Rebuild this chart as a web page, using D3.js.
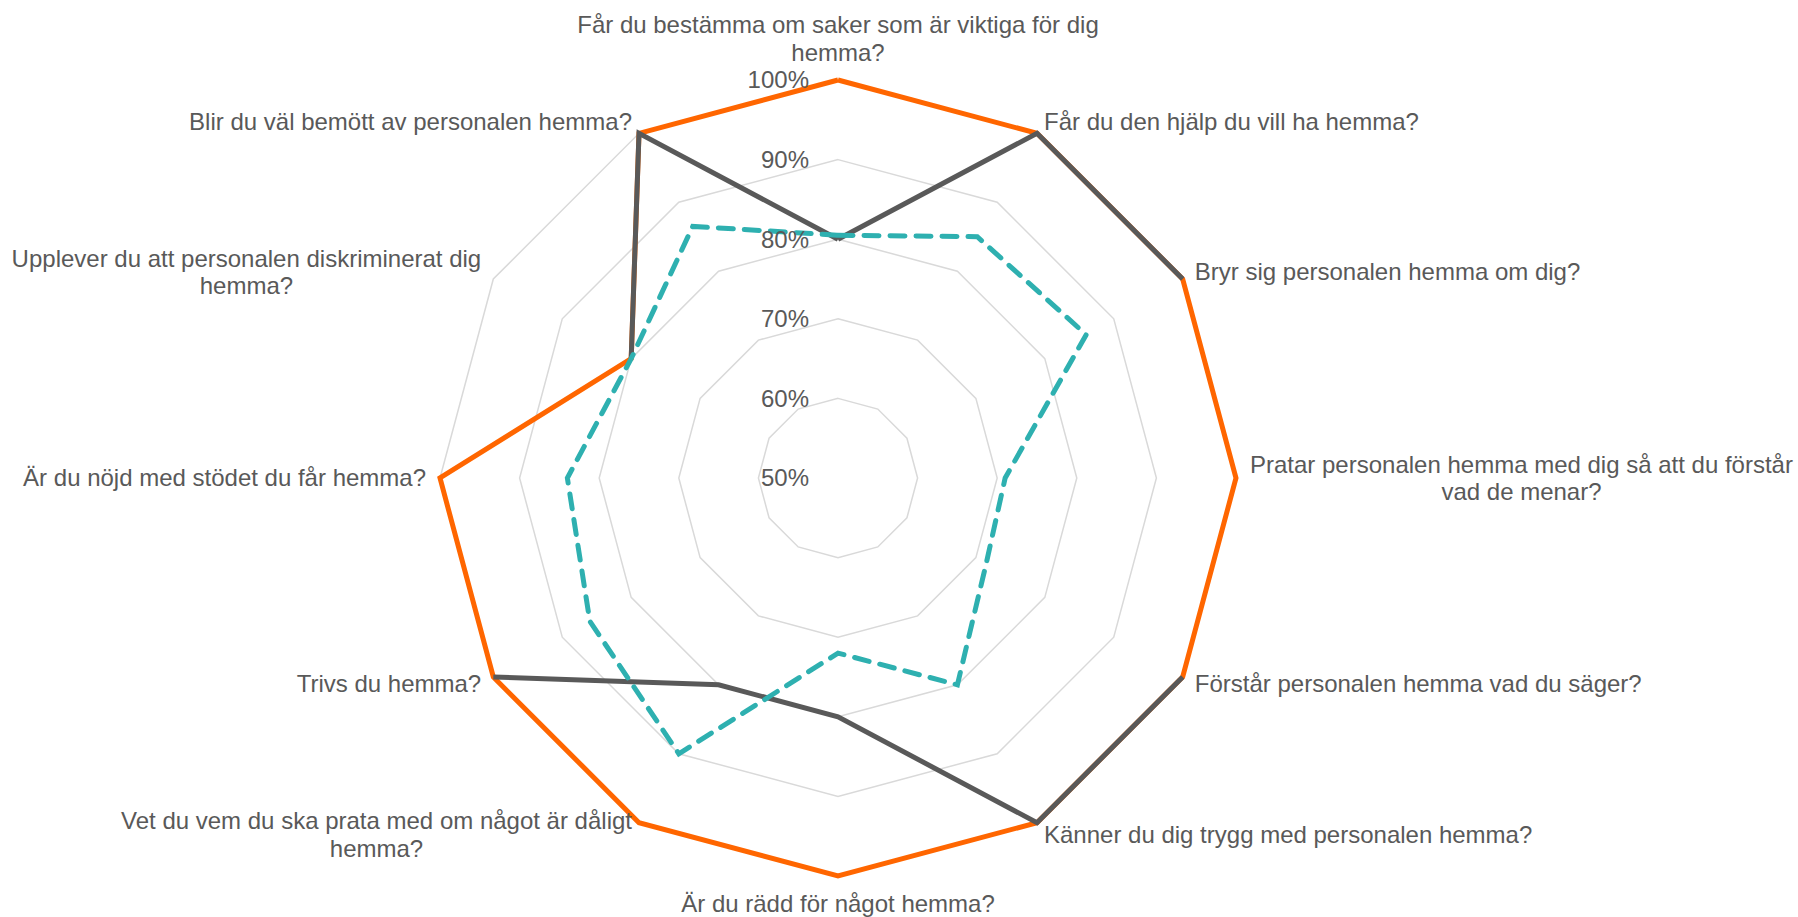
<!DOCTYPE html>
<html>
<head>
<meta charset="utf-8">
<script src="https://cdn.jsdelivr.net/npm/d3@7"></script>
<style>
  html, body { margin: 0; padding: 0; background: #fff; }
  svg { display: block; }
</style>
</head>
<body>
<svg id="chart"></svg>
<script>
// Category labels (line breaks as in the original chart)
const categories = [
  "Får du bestämma om saker som är viktiga för dig\nhemma?",
  "Får du den hjälp du vill ha hemma?",
  "Bryr sig personalen hemma om dig?",
  "Pratar personalen hemma med dig så att du förstår\nvad de menar?",
  "Förstår personalen hemma vad du säger?",
  "Känner du dig trygg med personalen hemma?",
  "Är du rädd för något hemma?",
  "Vet du vem du ska prata med om något är dåligt\nhemma?",
  "Trivs du hemma?",
  "Är du nöjd med stödet du får hemma?",
  "Upplever du att personalen diskriminerat dig\nhemma?",
  "Blir du väl bemött av personalen hemma?"
];

// Series values (share of positive answers), null = no value
const orangeValues = [1.00, 1.00, 1.00, 1.00, 1.00, 1.00, 1.00, 1.00, 1.00, 1.00, 0.80, 1.00];
const grayValues   = [0.80, 1.00, 1.00, null, 1.00, 1.00, 0.80, 0.80, 1.00, null, 0.80, 1.00];
const tealValues   = [0.805, 0.85, 0.86, 0.71, 0.715, 0.80, 0.72, 0.90, 0.86, 0.84, 0.80, 0.865];

// Radial axis ticks
const ticks = [0.5, 0.6, 0.7, 0.8, 0.9, 1.0];

const width = 1798;
const height = 917;
const cx = 838;
const cy = 478;
const outerRadius = 398;
const textColor = '#595959';
const fontFamily = '"Liberation Sans", Arial, sans-serif';

const svg = d3.select('#chart')
  .attr('width', width)
  .attr('height', height)
  .attr('viewBox', `0 0 ${width} ${height}`);

svg.append('rect').attr('width', width).attr('height', height).attr('fill', '#fff');

const g = svg.append('g').attr('transform', `translate(${cx}, ${cy})`);

const rScale = d3.scaleLinear().domain([0.5, 1.0]).range([0, outerRadius]);
const aScale = d3.scaleLinear().domain([0, categories.length]).range([0, 2 * Math.PI]);

// Grid rings (no spokes in the original)
const ringLine = d3.lineRadial()
  .angle((d, i) => aScale(i))
  .radius(d => rScale(d))
  .curve(d3.curveLinearClosed);

ticks.filter(t => t > 0.5).forEach(t => {
  g.append('path')
    .datum(categories.map(() => t))
    .attr('d', ringLine)
    .attr('fill', 'none')
    .attr('stroke', '#d9d9d9')
    .attr('stroke-width', 1.5);
});

// Series lines, closed by repeating the first point
const seriesLine = d3.lineRadial()
  .defined(d => d.v != null)
  .angle(d => aScale(d.i))
  .radius(d => rScale(d.v));

const closed = values => values.map((v, i) => ({ v, i })).concat([{ v: values[0], i: values.length }]);

g.append('path')
  .datum(closed(orangeValues))
  .attr('d', seriesLine)
  .attr('fill', 'none')
  .attr('stroke', '#ff6600')
  .attr('stroke-width', 5);

g.append('path')
  .datum(closed(grayValues))
  .attr('d', seriesLine)
  .attr('fill', 'none')
  .attr('stroke', '#595959')
  .attr('stroke-width', 5);

g.append('path')
  .datum(closed(tealValues))
  .attr('d', seriesLine)
  .attr('fill', 'none')
  .attr('stroke', '#2eb0b0')
  .attr('stroke-width', 5)
  .attr('stroke-linecap', 'round')
  .attr('stroke-dasharray', '15,11');

// Tick labels along the top axis
const fmt = d3.format('.0%');
ticks.forEach(t => {
  g.append('text')
    .attr('x', -29)
    .attr('y', -rScale(t))
    .attr('dy', '0.35em')
    .attr('text-anchor', 'end')
    .attr('font-family', fontFamily)
    .attr('font-size', '24px')
    .attr('fill', textColor)
    .text(fmt(t));
});

// Category labels
const pad = 14;
const lineHeight = 27.5;
categories.forEach((label, i) => {
  const a = aScale(i);
  const s = Math.sin(a);
  const c = Math.cos(a);
  const ax = (outerRadius + pad) * s;
  const ay = -(outerRadius + pad) * c;
  const lines = label.split('\n');

  const txt = g.append('text')
    .attr('font-family', fontFamily)
    .attr('font-size', '24px')
    .attr('fill', textColor)
    .attr('text-anchor', 'middle');

  const spans = lines.map(l => txt.append('tspan').text(l));
  const w = d3.max(spans, sp => sp.node().getComputedTextLength());
  const h = lines.length * lineHeight;

  let bx = ax;
  if (s > 0.1) bx = ax + w / 2;
  else if (s < -0.1) bx = ax - w / 2;
  let by = ay;
  if (Math.abs(s) < 0.1) by = ay - c * h / 2;

  spans.forEach((sp, k) => {
    sp.attr('x', bx)
      .attr('y', by - h / 2 + lineHeight * (k + 0.5))
      .attr('dy', '0.35em');
  });
});
</script>
</body>
</html>
